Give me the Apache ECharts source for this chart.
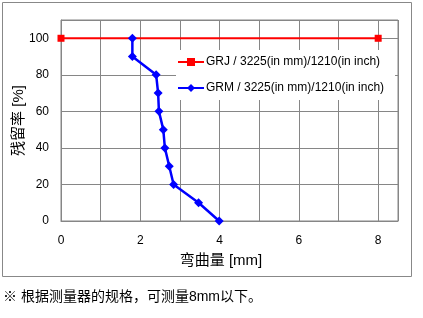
<!DOCTYPE html>
<html><head><meta charset="utf-8">
<script src="https://cdn.jsdelivr.net/npm/echarts@6/dist/echarts.min.js"></script>
<style>html,body{margin:0;padding:0;background:#fff}#c{width:423px;height:318px}</style>
</head><body><div id="c"></div>
<script>
var grjNames = 'GRJ / 3225(in mm)/1210(in inch)';
var grmNames = 'GRM / 3225(in mm)/1210(in inch)';
var grjX = [0, 8];
var grjY = [100, 100];
var grmX = [1.80, 1.80, 2.40, 2.45, 2.47, 2.58, 2.62, 2.73, 2.84, 3.47, 3.99];
var grmY = [100, 90, 80, 70, 60, 50, 40, 30, 20, 10, 0];
var xTitle = '弯曲量 [mm]';
var yTitle = '残留率 [%]';
var note = '※ 根据测量器的规格，可测量8mm以下。';

var font = '"Liberation Sans", Arial, "Noto Sans CJK SC", sans-serif';
var grid = '#868686';
function pairs(xs, ys){ return xs.map(function(x,i){ return [x, ys[i]]; }); }

var chart = echarts.init(document.getElementById('c'), null, {renderer:'canvas'});
chart.setOption({
  animation: false,
  textStyle: {fontFamily: font},
  grid: {left: 61, top: 20, width: 337, height: 201, containLabel: false, outerBoundsMode: 'none',
         show: true, borderColor: grid, borderWidth: 1, backgroundColor: 'transparent'},
  xAxis: {
    type: 'value', min: 0, max: 8.5, interval: 1,
    axisLine: {show: true, lineStyle: {color: grid}},
    axisTick: {show: false},
    splitLine: {show: true, lineStyle: {color: grid, width: 1}},
    axisLabel: {color: '#000', fontSize: 12, fontFamily: font, margin: 14, showMaxLabel: false,
      formatter: function(v){ return (Math.abs(v - Math.round(v)) < 1e-9 && Math.round(v) % 2 === 0) ? String(Math.round(v)) : ''; }},
    name: xTitle, nameLocation: 'middle', nameGap: 32, nameMoveOverlap: false,
    nameTextStyle: {color: '#000', fontSize: 15, fontFamily: font, padding: [0, 17, 0, 0]}
  },
  yAxis: {
    type: 'value', min: 0, max: 110, interval: 20,
    axisLine: {show: true, lineStyle: {color: grid}},
    axisTick: {show: false},
    splitLine: {show: true, lineStyle: {color: grid, width: 1}},
    axisLabel: {color: '#000', fontSize: 12, fontFamily: font, margin: 12, showMaxLabel: false,
      formatter: function(v){ return v > 100 ? '' : String(v); }},
    name: yTitle, nameLocation: 'middle', nameGap: 35, nameRotate: 90, nameMoveOverlap: false,
    nameTextStyle: {color: '#000', fontSize: 15, fontFamily: font}
  },
  legend: {
    orient: 'vertical', left: 176, top: 50,
    padding: [5, 11, 5, 1], itemGap: 12, itemWidth: 26, itemHeight: 10,
    backgroundColor: '#fff',
    textStyle: {color: '#000', fontSize: 12, lineHeight: 14, fontFamily: font, padding: [0,0,0,-3]},
    data: [grjNames, grmNames]
  },
  series: [
    {name: grjNames, type: 'line', data: pairs(grjX, grjY), symbol: 'rect', symbolSize: 7,
     lineStyle: {color: '#ff0000', width: 2}, itemStyle: {color: '#ff0000'}},
    {name: grmNames, type: 'line', data: pairs(grmX, grmY), symbol: 'diamond', symbolSize: 9,
     lineStyle: {color: '#0000ff', width: 2.5}, itemStyle: {color: '#0000ff'}}
  ],
  graphic: [
    {type: 'rect', shape: {x: 2.5, y: 2.5, width: 409, height: 274}, style: {fill: 'none', stroke: '#888', lineWidth: 1}, silent: true, z: -1},
    {type: 'text', left: 3, top: 290, style: {text: note, fill: '#000', font: '14px ' + font}}
  ]
});
</script></body></html>
